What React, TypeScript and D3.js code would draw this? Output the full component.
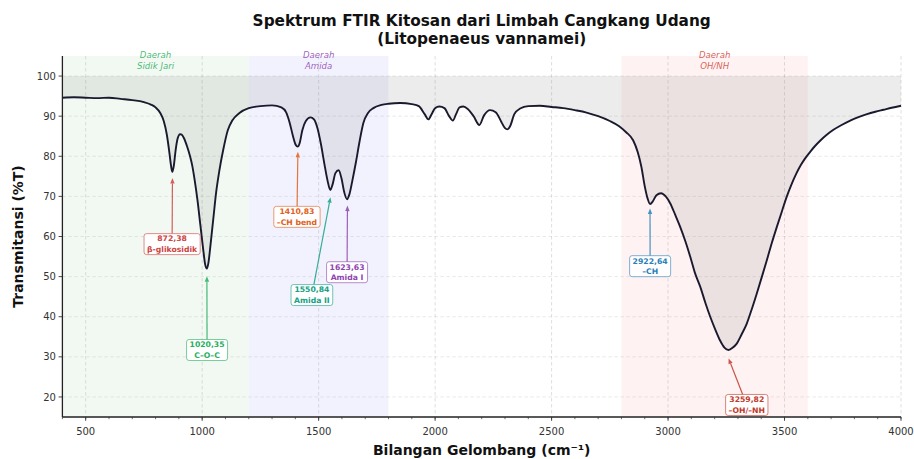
import React, { useEffect, useRef } from 'react';
import * as d3 from 'd3';

// ---- Spectrum ----
const wavenumbers = [
  400, 450, 500, 550, 600, 650, 700, 750, 780, 800, 820, 835, 848, 858, 866, 872, 878, 886, 895, 905,
  912, 922, 935, 948, 958, 968, 980, 992, 1004, 1013, 1020, 1027, 1036, 1048, 1060, 1074, 1090, 1110, 1130, 1160,
  1200, 1250, 1300, 1340, 1360, 1375, 1390, 1402, 1410, 1418, 1430, 1445, 1465, 1480, 1495, 1510, 1525, 1538, 1550, 1560,
  1572, 1586, 1598, 1610, 1622, 1632, 1645, 1660, 1675, 1692, 1712, 1735, 1770, 1800, 1850, 1900, 1930, 1955, 1971, 1985,
  2000, 2018, 2040, 2060, 2076, 2090, 2105, 2121, 2140, 2165, 2190, 2210, 2236, 2260, 2285, 2300, 2310, 2322, 2340, 2365,
  2400, 2450, 2500, 2550, 2600, 2650, 2700, 2750, 2790, 2820, 2850, 2870, 2885, 2900, 2912, 2923, 2935, 2950, 2970, 2990,
  3009, 3030, 3052, 3075, 3095, 3115, 3138, 3160, 3181, 3205, 3224, 3242, 3259, 3275, 3295, 3315, 3338, 3360, 3381, 3403,
  3424, 3445, 3467, 3490, 3510, 3530, 3550, 3570, 3590, 3610, 3630, 3655, 3680, 3710, 3745, 3782, 3820, 3854, 3890, 3925,
  3960, 4000,
];
const transmittance = [
  94.6, 94.7, 94.6, 94.5, 94.6, 94.3, 94.0, 93.5, 92.9, 92.2, 90.8, 88.8, 85.5, 81.5, 77.8, 76.1, 77.5, 81.5, 84.5, 85.5,
  85.4, 84.5, 82.5, 80.0, 77.5, 74.0, 69.0, 63.0, 57.0, 53.0, 52.0, 53.5, 58.0, 64.5, 71.0, 76.5, 81.5, 86.5, 89.0, 90.8,
  92.0, 92.5, 92.7, 92.2, 91.0, 88.5, 85.0, 82.8, 82.4, 83.2, 86.5, 88.8, 89.7, 89.2, 87.0, 83.0, 78.0, 74.0, 71.6, 73.0,
  75.8, 76.5, 74.5, 71.0, 69.3, 70.5, 74.0, 78.5, 83.5, 88.3, 90.8, 92.0, 92.8, 93.1, 93.3, 93.0, 92.5, 90.5, 89.2, 90.5,
  92.0, 92.4, 92.0, 90.0, 88.9, 90.5, 92.2, 92.4, 91.8, 90.0, 87.8, 90.2, 91.5, 91.0, 88.5, 87.0, 86.7, 87.5, 90.5, 91.9,
  92.5, 92.6, 92.3, 92.0, 91.5, 90.9, 90.0, 88.8, 87.5, 86.0, 84.0, 81.0, 77.5, 72.5, 69.5, 68.1, 68.8, 70.3, 70.8, 70.0,
  68.3, 65.5, 62.4, 58.7, 55.0, 51.0, 47.5, 43.5, 40.0, 36.5, 34.0, 32.3, 31.7, 32.2, 33.3, 35.5, 38.3, 42.0, 45.8, 50.0,
  54.1, 58.3, 62.4, 66.5, 70.0, 73.0, 75.6, 77.8, 79.6, 81.1, 82.5, 84.0, 85.3, 86.6, 87.8, 88.9, 89.8, 90.5, 91.1, 91.6,
  92.1, 92.6,
];

// ---- Axes ----
const xDomain = [400, 4000];
const yDomain = [15, 105];
const xTicks = [500, 1000, 1500, 2000, 2500, 3000, 3500, 4000];
const xMinorTicks = d3.range(400, 4001, 100);
const yTicks = [20, 30, 40, 50, 60, 70, 80, 90, 100];
const baselineT = 100;

// ---- Regions ----
const regionNames = [['Daerah', 'Sidik Jari'], ['Daerah', 'Amida'], ['Daerah', 'OH/NH']];
const regionStart = [400, 1200, 2800];
const regionEnd = [1200, 1800, 3600];
const regionFill = ['green', 'blue', 'red'];
const regionTextColor = ['#27ae60', '#8e44ad', '#d0453a'];

// ---- Peak annotations ----
const peakWavenumbers = [872.38, 1020.35, 1410.83, 1550.84, 1623.63, 2922.64, 3259.82];
const peakLabels = [
  ['872,38', 'β-glikosidik'],
  ['1020,35', 'C–O–C'],
  ['1410,83', '–CH bend'],
  ['1550,84', 'Amida II'],
  ['1623,63', 'Amida I'],
  ['2922,64', '–CH'],
  ['3259,82', '–OH/–NH'],
];
const peakColors = ['#cc4444', '#27ae60', '#e0601a', '#16a085', '#8e44ad', '#2980b9', '#c0392b'];
const peakTipT = [74.6, 50.1, 81.1, 69.8, 67.7, 67.0, 29.6];
const labelWn = [871, 1021, 1407, 1471, 1622, 2923, 3338];
const labelT = [58.1, 31.7, 64.9, 45.4, 51.1, 52.6, 18.0];

const W = 914;
const H = 459;
const FONT = 'DejaVu Sans, sans-serif';

export default function App() {
  const ref = useRef<SVGSVGElement | null>(null);

  useEffect(() => {
    document.body.style.margin = '0';
    const svg = d3.select(ref.current);
    svg.selectAll('*').remove();

    const x = d3.scaleLinear().domain(xDomain).range([62.4, 901]);
    const y = d3.scaleLinear().domain(yDomain).range([417, 56]);
    const [x0, x1] = x.range();
    const [yb, yt] = y.range();

    // regions
    regionStart.forEach((s, i) => {
      svg.append('rect')
        .attr('x', x(s)).attr('y', yt)
        .attr('width', x(regionEnd[i]) - x(s)).attr('height', yb - yt)
        .attr('fill', regionFill[i]).attr('fill-opacity', 0.05);
    });

    // grid
    const grid = svg.append('g');
    xTicks.forEach((t) => {
      grid.append('line').attr('x1', x(t)).attr('x2', x(t)).attr('y1', yt).attr('y2', yb)
        .attr('stroke', '#b0b0b0').attr('stroke-width', 0.8).attr('stroke-dasharray', '3.5,2.5').attr('stroke-opacity', 0.5);
    });
    yTicks.forEach((t) => {
      grid.append('line').attr('x1', x0).attr('x2', x1).attr('y1', y(t)).attr('y2', y(t))
        .attr('stroke', '#b0b0b0').attr('stroke-width', 0.8).attr('stroke-dasharray', '3.5,2.5').attr('stroke-opacity', 0.35);
    });

    const pts = wavenumbers.map((w, i) => [w, transmittance[i]] as [number, number]);

    // fill between spectrum and 100
    const area = d3.area<[number, number]>()
      .x((d) => x(d[0])).y0(y(baselineT)).y1((d) => y(d[1]))
      .curve(d3.curveMonotoneX);
    svg.append('path').attr('d', area(pts) || '').attr('fill', 'gray').attr('fill-opacity', 0.15);

    // spectrum line
    const line = d3.line<[number, number]>()
      .x((d) => x(d[0])).y((d) => y(d[1]))
      .curve(d3.curveMonotoneX);
    svg.append('path').attr('d', line(pts) || '').attr('fill', 'none')
      .attr('stroke', '#1a1a2e').attr('stroke-width', 1.9).attr('stroke-linejoin', 'round');

    // region labels
    regionNames.forEach((lines, i) => {
      const cx = x((regionStart[i] + regionEnd[i]) / 2);
      lines.forEach((l, j) => {
        svg.append('text').attr('x', cx).attr('y', 58 + j * 10.5)
          .attr('text-anchor', 'middle').attr('font-family', FONT).attr('font-style', 'italic')
          .attr('font-size', 8.6).attr('fill', regionTextColor[i]).attr('fill-opacity', 0.85)
          .text(l);
      });
    });

    // annotations
    const fs = 7.7;
    const lh = 10.8;
    peakWavenumbers.forEach((wn, i) => {
      const color = peakColors[i];
      const tx = x(labelWn[i]);
      const ty = y(labelT[i]);
      const px = x(wn);
      const py = y(peakTipT[i]);
      const g = svg.append('g');
      const rect = g.append('rect');
      const texts = peakLabels[i].map((l, j) =>
        g.append('text').attr('x', tx).attr('y', ty + (j - 0.5) * lh + fs * 0.36)
          .attr('text-anchor', 'middle').attr('font-family', FONT).attr('font-weight', 'bold')
          .attr('font-size', fs).attr('fill', color).text(l));
      let wMax = 0;
      texts.forEach((t) => {
        const n = t.node() as SVGTextElement;
        wMax = Math.max(wMax, n.getComputedTextLength());
      });
      const bw = wMax + 6;
      const bh = lh + fs + 2.5;
      rect.attr('x', tx - bw / 2).attr('y', ty - bh / 2).attr('width', bw).attr('height', bh)
        .attr('rx', 2.5).attr('fill', 'white').attr('fill-opacity', 0.92)
        .attr('stroke', color).attr('stroke-opacity', 0.6).attr('stroke-width', 1);

      // arrow from box edge to tip
      const dx = px - tx;
      const dy = py - ty;
      const sx = Math.abs(dx) > 1e-6 ? (bw / 2) / Math.abs(dx) : Infinity;
      const sy = Math.abs(dy) > 1e-6 ? (bh / 2) / Math.abs(dy) : Infinity;
      const s = Math.min(sx, sy);
      const ax = tx + dx * s;
      const ay = ty + dy * s;
      const len = Math.hypot(px - ax, py - ay);
      const ux = (px - ax) / len;
      const uy = (py - ay) / len;
      const hl = 5.5;
      const hw = 2.2;
      const bx = px - ux * hl;
      const by = py - uy * hl;
      svg.append('line').attr('x1', ax).attr('y1', ay).attr('x2', bx).attr('y2', by)
        .attr('stroke', color).attr('stroke-width', 1.2).attr('stroke-opacity', 0.85);
      svg.append('path')
        .attr('d', `M${px},${py}L${bx - uy * hw},${by + ux * hw}L${bx + uy * hw},${by - ux * hw}Z`)
        .attr('fill', color).attr('fill-opacity', 0.85);
      svg.node()!.appendChild(g.node()!);
    });

    // spines
    svg.append('line').attr('x1', x0).attr('x2', x0).attr('y1', yt).attr('y2', yb)
      .attr('stroke', '#222').attr('stroke-width', 1.3);
    svg.append('line').attr('x1', x0).attr('x2', x1).attr('y1', yb).attr('y2', yb)
      .attr('stroke', '#222').attr('stroke-width', 1.3);

    // ticks
    xMinorTicks.forEach((t) => {
      svg.append('line').attr('x1', x(t)).attr('x2', x(t)).attr('y1', yb).attr('y2', yb + 2.2)
        .attr('stroke', '#333').attr('stroke-width', 0.7);
    });
    xTicks.forEach((t) => {
      svg.append('line').attr('x1', x(t)).attr('x2', x(t)).attr('y1', yb).attr('y2', yb + 3.8)
        .attr('stroke', '#333').attr('stroke-width', 0.9);
      svg.append('text').attr('x', x(t)).attr('y', yb + 17.5).attr('text-anchor', 'middle')
        .attr('font-family', FONT).attr('font-size', 10).attr('fill', '#333').text(String(t));
    });
    yTicks.forEach((t) => {
      svg.append('line').attr('x1', x0 - 3.8).attr('x2', x0).attr('y1', y(t)).attr('y2', y(t))
        .attr('stroke', '#333').attr('stroke-width', 0.9);
      svg.append('text').attr('x', x0 - 6.5).attr('y', y(t) + 3.6).attr('text-anchor', 'end')
        .attr('font-family', FONT).attr('font-size', 10).attr('fill', '#333').text(String(t));
    });

    // axis labels
    svg.append('text').attr('x', (x0 + x1) / 2).attr('y', 455).attr('text-anchor', 'middle')
      .attr('font-family', FONT).attr('font-weight', 'bold').attr('font-size', 14).attr('fill', '#111')
      .text('Bilangan Gelombang (cm⁻¹)');
    svg.append('text').attr('transform', `translate(23,${(yt + yb) / 2}) rotate(-90)`)
      .attr('text-anchor', 'middle')
      .attr('font-family', FONT).attr('font-weight', 'bold').attr('font-size', 14).attr('fill', '#111')
      .text('Transmitansi (%T)');

    // title
    ['Spektrum FTIR Kitosan dari Limbah Cangkang Udang', '(Litopenaeus vannamei)'].forEach((t, j) => {
      svg.append('text').attr('x', (x0 + x1) / 2).attr('y', 25.5 + j * 18).attr('text-anchor', 'middle')
        .attr('font-family', FONT).attr('font-weight', 'bold').attr('font-size', 15.3).attr('fill', '#111')
        .text(t);
    });
  }, []);

  return <svg ref={ref} width={W} height={H} style={{ display: 'block', background: 'white' }} />;
}
